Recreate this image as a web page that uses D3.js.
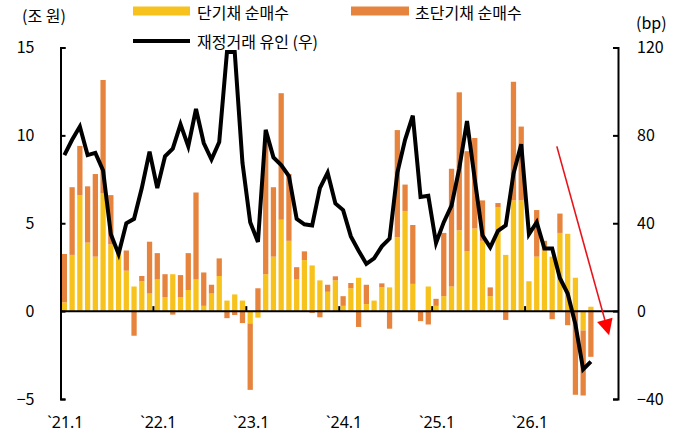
<!DOCTYPE html>
<html>
<head>
<meta charset="utf-8">
<script src="https://cdn.jsdelivr.net/npm/d3@7"></script>
<style>
  body { margin: 0; background: #fff; }
  text { font-family: "Noto Sans CJK KR", "Noto Sans", sans-serif; fill: #000; }
</style>
</head>
<body>
<div id="chart"></div>
<script>
// month slots on the axis: `21.1 .. `26.12 (data runs to `26.9)
const years = [21, 22, 23, 24, 25, 26];
const months = [];
years.forEach(y => d3.range(1, 13).forEach(m => months.push(`${y}.${m}`)));

const tickLabels = ["`21.1", "`22.1", "`23.1", "`24.1", "`25.1", "`26.1"];
const tickMonths = ["21.1", "22.1", "23.1", "24.1", "25.1", "26.1"];

// 단기채 순매수 (조 원)
const shortBuy = [
  0.5, 3.2, 6.6, 3.9, 3.1, 6.7, 3.8, 3.4, 2.3, 1.4, 1.7, 1.0,
  1.8, 0.8, 2.1, 0.8, 1.2, 1.8, 0.3, 1.0, 2.0, 0.6, 0.95, 0.6,
  -0.7, -0.37, 2.1, 3.1, 5.2, 4.0, 1.8, 2.9, 2.6, 1.75, 1.1, 1.75,
  0.3, 1.3, 1.9, 0.4, 0.6, 1.35, 1.35, 4.2, 5.7, 1.55, 0, 1.4,
  0.3, 0.85, 1.4, 4.6, 3.4, 4.7, 4.0, 0.85, 5.9, 3.2, 6.3, 6.3,
  1.7, 3.1, 3.45, 3.1, 4.45, 4.4, 1.9, -1.1, 0.25
];

// 초단기채 순매수 (조 원)
const ultraShortBuy = [
  2.75, 3.85, 2.8, 3.2, 4.7, 6.45, 2.8, 0, 1.15, -1.4, 0.3, 2.95,
  1.5, 1.3, -0.2, 1.25, 2.1, 4.95, 1.9, 0.5, 1.0, -0.4, -0.22, -0.68,
  -3.78, 1.3, 7.7, 3.95, 7.2, 3.8, 0.7, 0.5, -0.1, -0.35, 0.4, 0.23,
  0.55, 0.3, -0.9, 1.1, 0, 0.23, -1.0, 6.1, 1.5, 3.35, -0.57, -0.76,
  0.4, 3.6, 6.7, 7.85, 5.7, 5.15, 2.3, 0.5, 0.25, -0.5, 6.75, 4.2,
  0, 2.65, 0.55, -0.46, 1.1, -0.8, -4.76, -3.7, -2.6
];

// 재정거래 유인 (bp, 우축)
const arbitrage = [
  71, 78, 84, 71, 72, 64, 35, 26, 40, 42, 56, 72.6,
  56, 70.5, 74, 85, 75, 92, 76.5, 69, 77, 118, 118, 67.5,
  40.5, 31.5, 82.5, 70, 66.5, 61.5, 42, 39.5, 39, 56, 63, 49,
  46, 34, 27.5, 21.5, 24, 29.5, 33, 63, 78, 89, 52, 52.5,
  31, 40.5, 48, 65, 86.5, 60, 34.5, 29, 36.5, 39, 62.5, 76,
  35, 40.5, 28.5, 28.5, 15, 8, -6, -26.5, -23
];

const leftTicks = [-5, 0, 5, 10, 15];
const rightTicks = [-40, 0, 40, 80, 120];

// arrow annotation in (month slot, bp) terms
const arrowFrom = [63.6, 75];
const arrowTo = [70.35, -11];

const yellow = "#f8c21c";
const orange = "#e6833d";

const width = 684, height = 444;
const plotLeft = 60.5, plotRight = 618, plotTop = 47.5, plotBottom = 399;

const svg = d3.select("#chart")
    .append("svg")
    .attr("width", width)
    .attr("height", height);

const xScale = d3.scaleBand()
    .domain(months)
    .range([plotLeft, plotRight])
    .paddingInner(0.32)
    .paddingOuter(0.16);

// same slots as a continuous scale, for the annotation
const xSlot = d3.scaleLinear()
    .domain([-0.5, months.length - 0.5])
    .range([plotLeft, plotRight]);

const yLeft = d3.scaleLinear().domain([-5, 15]).range([plotBottom, plotTop]);
const yRight = d3.scaleLinear().domain([-40, 120]).range([plotBottom, plotTop]);

const rows = shortBuy.map((v, i) => ({ month: months[i], short: v, ultra: ultraShortBuy[i] }));

const series = d3.stack()
    .keys(["short", "ultra"])
    .offset(d3.stackOffsetDiverging)(rows);

//Create bars
svg.append("g")
    .selectAll("g")
    .data(series)
    .enter()
    .append("g")
    .attr("fill", (d, i) => i === 0 ? yellow : orange)
    .selectAll("rect")
    .data(d => d)
    .enter()
    .append("rect")
    .attr("x", d => xScale(d.data.month))
    .attr("y", d => yLeft(Math.max(d[0], d[1])))
    .attr("width", xScale.bandwidth())
    .attr("height", d => Math.abs(yLeft(d[0]) - yLeft(d[1])));

// axes
const axisFont = g => g
    .attr("font-family", "\"Noto Sans\", sans-serif")
    .attr("font-size", 16)
    .call(g => g.selectAll("path, line").attr("stroke", "#000").attr("stroke-width", 2));

svg.append("g")
    .attr("transform", `translate(${plotLeft},0)`)
    .call(d3.axisLeft(yLeft).tickValues(leftTicks).tickSizeInner(-5).tickSizeOuter(-5).tickPadding(26))
    .call(axisFont);

svg.append("g")
    .attr("transform", `translate(${plotRight},0)`)
    .call(d3.axisRight(yRight).tickValues(rightTicks).tickSizeInner(-5).tickSizeOuter(-5).tickPadding(19))
    .call(axisFont);

// zero line with year ticks pointing up
const step = xScale.step();
const zeroY = yLeft(0);
svg.append("line")
    .attr("x1", plotLeft).attr("x2", plotRight)
    .attr("y1", zeroY).attr("y2", zeroY)
    .attr("stroke", "#000").attr("stroke-width", 2);

svg.selectAll(".ytick")
    .data(tickMonths.slice(1))
    .enter()
    .append("line")
    .attr("x1", d => xScale(d) - step * 0.16)
    .attr("x2", d => xScale(d) - step * 0.16)
    .attr("y1", zeroY).attr("y2", zeroY - 5)
    .attr("stroke", "#000").attr("stroke-width", 2);

svg.selectAll(".xlabel")
    .data(tickMonths)
    .enter()
    .append("text")
    .attr("x", d => xScale(d) + xScale.bandwidth() / 2 + 1)
    .attr("y", 422)
    .attr("dy", "0.35em")
    .attr("text-anchor", "middle")
    .style("font-family", "\"Noto Sans\", sans-serif")
    .attr("font-size", 16)
    .text((d, i) => tickLabels[i]);

// arbitrage line
const line = d3.line()
    .x((d, i) => xScale(months[i]) + xScale.bandwidth() / 2)
    .y(d => yRight(d));

svg.append("path")
    .datum(arbitrage)
    .attr("fill", "none")
    .attr("stroke", "#000")
    .attr("stroke-width", 4)
    .attr("stroke-linejoin", "miter")
    .attr("d", line);

// red arrow
const tip = [xSlot(arrowTo[0]), yRight(arrowTo[1])];
const from = [xSlot(arrowFrom[0]), yRight(arrowFrom[1])];
const ang = Math.atan2(tip[1] - from[1], tip[0] - from[0]);
const headLen = 16, headHalf = 8;
const base = [tip[0] - Math.cos(ang) * headLen, tip[1] - Math.sin(ang) * headLen];

svg.append("line")
    .attr("x1", from[0]).attr("y1", from[1])
    .attr("x2", base[0]).attr("y2", base[1])
    .attr("stroke", "#e8141b")
    .attr("stroke-width", 1.6);

svg.append("path")
    .attr("fill", "#f00")
    .attr("d", "M" + tip.join(",")
        + "L" + [base[0] - Math.sin(ang) * headHalf, base[1] + Math.cos(ang) * headHalf].join(",")
        + "L" + [base[0] + Math.sin(ang) * headHalf, base[1] - Math.cos(ang) * headHalf].join(",")
        + "Z");

// units
svg.append("text").attr("x", 22).attr("y", 16).attr("dy", "0.35em")
    .attr("font-size", 16).text("(조 원)");
svg.append("text").attr("x", 636).attr("y", 23).attr("dy", "0.35em")
    .attr("font-size", 16).text("(bp)");

// legend
const legend = svg.append("g");
legend.append("rect").attr("x", 133).attr("y", 6.5).attr("width", 57).attr("height", 9).attr("fill", yellow);
legend.append("text").attr("x", 197).attr("y", 13).attr("dy", "0.35em").attr("font-size", 16).text("단기채 순매수");
legend.append("rect").attr("x", 351).attr("y", 6.5).attr("width", 58).attr("height", 9).attr("fill", orange);
legend.append("text").attr("x", 415).attr("y", 13).attr("dy", "0.35em").attr("font-size", 16).text("초단기채 순매수");
legend.append("line").attr("x1", 133).attr("x2", 190).attr("y1", 41).attr("y2", 41)
    .attr("stroke", "#000").attr("stroke-width", 4);
legend.append("text").attr("x", 197).attr("y", 42).attr("dy", "0.35em").attr("font-size", 16).text("재정거래 유인 (우)");
</script>
</body>
</html>
